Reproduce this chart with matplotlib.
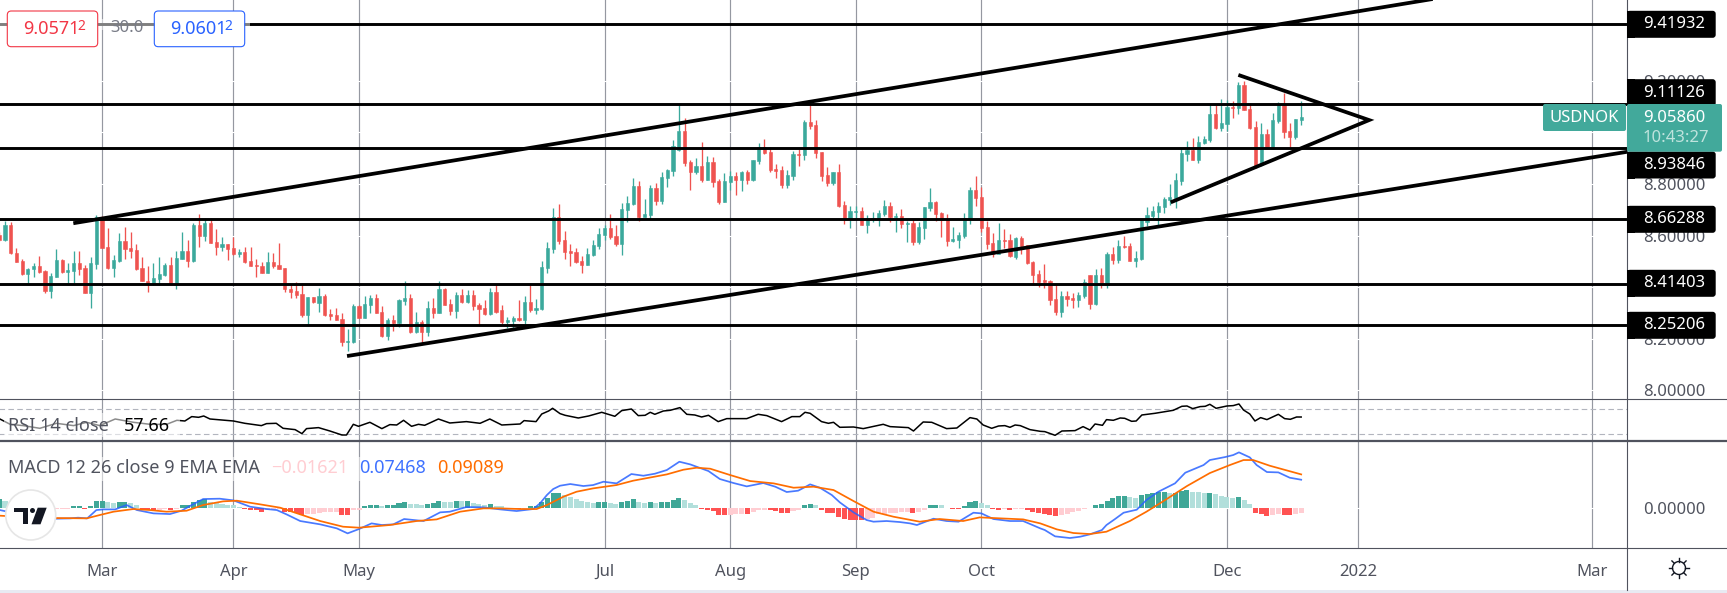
import matplotlib
matplotlib.use("Agg")
import matplotlib.pyplot as plt
from matplotlib.patches import Circle, FancyBboxPatch, Polygon, Rectangle

plt.rcParams['font.family'] = ['Noto Sans', 'DejaVu Sans']

# USDNOK daily candles
opens = [
    8.602,8.583,8.641,8.534,8.502,8.451,8.469,8.482,8.464,8.387,
    8.441,8.505,8.460,8.463,8.494,8.474,8.379,8.490,8.674,8.555,
    8.476,8.503,8.578,8.552,8.544,8.474,8.425,8.412,8.433,8.447,
    8.486,8.412,8.511,8.540,8.502,8.641,8.600,8.648,8.574,8.557,
    8.567,8.551,8.529,8.536,8.502,8.485,8.482,8.456,8.498,8.485,
    8.473,8.393,8.385,8.374,8.294,8.361,8.337,8.366,8.296,8.292,
    8.277,8.189,8.186,8.327,8.281,8.331,8.359,8.304,8.211,8.273,
    8.261,8.348,8.358,8.226,8.265,8.228,8.319,8.301,8.393,8.335,
    8.308,8.370,8.343,8.370,8.331,8.319,8.296,8.381,8.312,8.265,
    8.269,8.281,8.273,8.343,8.312,8.315,8.474,8.548,8.672,8.583,
    8.540,8.536,8.502,8.486,8.525,8.560,8.602,8.629,8.598,8.567,
    8.699,8.723,8.792,8.672,8.680,8.785,8.734,8.823,8.851,8.932,
    9.006,8.885,8.847,8.870,8.816,8.885,8.812,8.730,8.808,8.831,
    8.816,8.847,8.816,8.889,8.944,8.924,8.858,8.854,8.796,8.831,
    8.916,8.913,9.041,9.029,8.924,8.835,8.804,8.847,8.719,8.664,
    8.692,8.695,8.641,8.664,8.664,8.684,8.715,8.672,8.676,8.645,
    8.649,8.575,8.629,8.707,8.730,8.688,8.664,8.579,8.583,8.598,
    8.664,8.777,8.750,8.633,8.571,8.529,8.583,8.583,8.518,8.592,
    8.564,8.499,8.451,8.428,8.425,8.354,8.304,8.366,8.358,8.350,
    8.366,8.447,8.335,8.447,8.408,8.529,8.505,8.560,8.560,8.502,
    8.509,8.653,8.676,8.692,8.711,8.738,8.746,8.812,8.916,8.932,
    8.893,8.959,8.971,9.072,9.017,9.033,9.099,9.095,9.184,9.091,
    9.021,8.874,8.994,8.936,9.044,9.106,9.006,8.982,9.048,
]
highs = [
    8.615,8.658,8.651,8.551,8.509,8.473,8.495,8.521,8.467,8.454,
    8.548,8.508,8.495,8.540,8.540,8.486,8.516,8.680,8.676,8.628,
    8.525,8.610,8.632,8.614,8.566,8.517,8.482,8.492,8.517,8.494,
    8.517,8.542,8.614,8.583,8.650,8.684,8.667,8.667,8.624,8.593,
    8.567,8.596,8.547,8.554,8.556,8.508,8.499,8.536,8.531,8.571,
    8.473,8.411,8.421,8.415,8.363,8.361,8.396,8.374,8.314,8.321,
    8.300,8.238,8.335,8.331,8.366,8.370,8.374,8.327,8.279,8.292,
    8.353,8.424,8.374,8.304,8.273,8.346,8.358,8.424,8.397,8.354,
    8.381,8.393,8.389,8.389,8.339,8.350,8.397,8.412,8.331,8.284,
    8.288,8.350,8.366,8.408,8.354,8.502,8.575,8.707,8.723,8.618,
    8.567,8.552,8.521,8.552,8.583,8.629,8.641,8.684,8.641,8.726,
    8.754,8.823,8.812,8.742,8.796,8.804,8.847,8.858,8.971,9.106,
    9.056,8.893,8.901,8.963,8.909,8.905,8.820,8.843,8.850,8.847,
    8.850,8.854,8.893,8.959,8.975,8.944,8.878,8.870,8.854,8.928,
    8.936,9.048,9.106,9.048,8.924,8.866,8.847,8.878,8.734,8.715,
    8.715,8.711,8.680,8.692,8.699,8.738,8.730,8.688,8.703,8.657,
    8.664,8.653,8.711,8.785,8.734,8.692,8.684,8.633,8.614,8.688,
    8.789,8.831,8.789,8.657,8.610,8.649,8.624,8.606,8.593,8.598,
    8.564,8.503,8.467,8.490,8.428,8.416,8.385,8.385,8.377,8.381,
    8.432,8.447,8.470,8.474,8.536,8.556,8.583,8.598,8.571,8.540,
    8.661,8.711,8.715,8.730,8.750,8.800,8.843,8.940,8.967,8.979,
    8.986,8.986,9.106,9.106,9.130,9.126,9.122,9.196,9.200,9.114,
    9.044,9.037,9.013,9.075,9.118,9.153,9.037,9.052,9.122,
]
lows = [
    8.580,8.580,8.529,8.498,8.447,8.408,8.441,8.454,8.379,8.359,
    8.438,8.456,8.408,8.415,8.447,8.376,8.321,8.472,8.551,8.469,
    8.441,8.499,8.511,8.512,8.467,8.424,8.383,8.408,8.408,8.445,
    8.408,8.392,8.508,8.480,8.498,8.557,8.580,8.570,8.525,8.542,
    8.505,8.525,8.518,8.493,8.482,8.441,8.454,8.454,8.476,8.469,
    8.383,8.359,8.359,8.286,8.251,8.337,8.305,8.290,8.273,8.273,
    8.172,8.154,8.185,8.279,8.279,8.301,8.299,8.207,8.195,8.231,
    8.244,8.332,8.224,8.224,8.180,8.211,8.281,8.299,8.331,8.292,
    8.281,8.340,8.337,8.312,8.250,8.292,8.292,8.300,8.257,8.242,
    8.242,8.269,8.257,8.304,8.296,8.312,8.455,8.533,8.567,8.509,
    8.482,8.494,8.455,8.486,8.521,8.548,8.583,8.587,8.560,8.525,
    8.653,8.719,8.657,8.672,8.664,8.719,8.723,8.788,8.831,8.928,
    8.870,8.777,8.839,8.808,8.816,8.788,8.723,8.730,8.777,8.757,
    8.773,8.800,8.812,8.878,8.916,8.847,8.823,8.785,8.785,8.816,
    8.870,8.893,9.013,8.901,8.812,8.792,8.796,8.711,8.645,8.629,
    8.660,8.641,8.610,8.653,8.637,8.676,8.653,8.614,8.629,8.575,
    8.564,8.567,8.587,8.695,8.657,8.595,8.560,8.575,8.552,8.591,
    8.645,8.715,8.614,8.548,8.517,8.529,8.551,8.516,8.509,8.529,
    8.490,8.412,8.402,8.398,8.331,8.292,8.284,8.327,8.319,8.323,
    8.358,8.315,8.331,8.397,8.397,8.490,8.494,8.552,8.502,8.478,
    8.505,8.637,8.664,8.641,8.688,8.719,8.707,8.796,8.889,8.893,
    8.882,8.955,8.963,9.013,9.006,9.006,9.056,9.072,9.087,9.013,
    8.862,8.870,8.936,8.936,9.037,8.979,8.944,8.975,9.029,
]
closes = [
    8.583,8.641,8.531,8.499,8.451,8.470,8.482,8.459,8.387,8.443,
    8.505,8.460,8.467,8.494,8.472,8.379,8.494,8.674,8.553,8.474,
    8.505,8.578,8.549,8.542,8.472,8.425,8.412,8.434,8.451,8.486,
    8.412,8.513,8.540,8.502,8.641,8.600,8.648,8.573,8.557,8.567,
    8.549,8.529,8.536,8.498,8.483,8.481,8.456,8.498,8.482,8.472,
    8.392,8.383,8.371,8.291,8.363,8.341,8.366,8.291,8.290,8.273,
    8.189,8.191,8.327,8.281,8.335,8.359,8.301,8.211,8.273,8.261,
    8.350,8.359,8.226,8.265,8.226,8.319,8.301,8.393,8.331,8.308,
    8.370,8.343,8.370,8.327,8.315,8.296,8.381,8.304,8.265,8.273,
    8.281,8.273,8.343,8.312,8.319,8.478,8.552,8.672,8.579,8.536,
    8.533,8.498,8.486,8.529,8.564,8.606,8.629,8.595,8.567,8.703,
    8.726,8.792,8.672,8.684,8.785,8.734,8.827,8.854,8.947,9.006,
    8.882,8.847,8.870,8.816,8.885,8.808,8.730,8.812,8.831,8.816,
    8.847,8.816,8.893,8.944,8.920,8.854,8.850,8.796,8.835,8.916,
    8.913,9.041,9.025,8.920,8.831,8.804,8.847,8.715,8.664,8.695,
    8.695,8.641,8.668,8.668,8.688,8.715,8.672,8.676,8.645,8.649,
    8.575,8.633,8.711,8.730,8.684,8.660,8.579,8.587,8.602,8.668,
    8.777,8.746,8.629,8.567,8.529,8.583,8.579,8.521,8.592,8.560,
    8.493,8.447,8.421,8.420,8.350,8.304,8.366,8.354,8.352,8.370,
    8.420,8.335,8.447,8.408,8.529,8.505,8.560,8.556,8.502,8.513,
    8.661,8.680,8.695,8.715,8.742,8.750,8.816,8.920,8.932,8.893,
    8.963,8.975,9.072,9.017,9.037,9.099,9.095,9.184,9.087,9.017,
    8.870,8.994,8.936,9.048,9.106,9.002,8.982,9.052,9.060,
]

# support / resistance levels and the drawn trend lines (bar, price)
levels = [9.41932, 9.11126, 8.93846, 8.66288, 8.41403, 8.25206]
upper_channel_bars = [12.96, 252.0]
upper_channel_prices = [8.648, 9.521]
lower_channel_bars = [60.9, 285.1]
lower_channel_prices = [8.133, 8.925]
triangle_bars = [217.0, 239.9, 205.15]
triangle_prices = [9.223, 9.048, 8.729]

# RSI line
rsi_bars = [
    0.1,1.9,4.2,7.1,10.0,13.0,15.3,17.6,20.3,23.5,26.4,29.3,31.1,32.5,33.7,34.9,35.8,36.9,41.0,43.0,
    45.9,46.8,48.5,49.7,51.8,53.0,53.8,55.9,57.9,60.0,60.8,62.0,62.9,64.9,67.0,68.4,69.6,70.8,72.2,73.4,
    74.5,76.9,78.9,81.8,84.2,85.9,88.0,91.2,91.9,94.0,95.0,96.2,96.9,98.2,99.1,101.4,103.2,105.5,107.8,109.0,
    110.7,111.9,113.1,114.0,114.8,116.3,117.5,119.2,120.4,121.8,123.0,124.2,125.9,127.4,130.9,132.9,134.4,137.0,138.8,140.2,
    141.1,142.0,144.0,145.2,146.1,147.2,149.6,151.3,154.8,156.0,159.2,160.1,161.8,163.3,165.9,167.7,170.0,171.2,172.3,173.8,
    175.0,176.1,177.0,177.9,178.8,180.5,182.3,183.1,184.9,186.1,188.4,189.8,191.0,191.9,193.2,193.9,195.1,196.3,197.1,198.3,
    199.1,200.1,202.4,205.6,207.1,208.0,209.0,210.3,211.2,212.0,213.1,215.0,216.1,217.1,217.9,219.0,219.9,220.9,222.0,224.0,
    225.1,226.1,227.2,228.0,
]
rsi_values = [
    54.5,46.0,43.9,39.6,47.6,43.9,49.2,43.9,54.5,49.2,46.0,46.0,52.4,51.3,58.3,57.2,59.3,54.5,51.3,47.6,
    43.9,47.1,47.6,39.6,37.5,31.1,39.1,40.7,35.3,28.9,28.9,46.0,42.8,49.2,39.1,45.5,44.9,52.4,42.8,46.0,
    44.4,54.5,48.1,50.3,47.6,54.5,44.9,46.5,51.9,50.3,62.5,67.3,71.6,63.1,60.4,56.1,59.3,65.2,58.8,67.9,
    70.5,59.9,60.4,65.2,62.0,67.3,68.4,72.7,62.0,60.9,57.7,60.4,50.3,55.1,55.1,62.0,59.9,50.3,58.3,58.3,
    65.2,63.6,50.3,47.6,49.2,41.2,41.7,39.1,46.0,42.3,40.7,35.3,49.7,49.2,39.1,40.1,56.7,54.5,44.9,39.6,
    43.3,43.9,41.2,44.9,43.9,37.5,34.8,34.3,28.4,35.3,35.9,42.3,36.9,46.5,44.4,53.5,52.4,56.1,55.6,50.8,
    51.3,60.9,63.6,68.4,74.8,75.3,71.1,74.3,74.8,78.0,71.6,75.3,75.9,78.5,68.9,62.5,51.3,56.7,53.5,62.0,
    55.1,54.0,57.7,57.66,
]

# MACD line
macd_bars = [
    0.1,3.6,7.1,9.8,12.4,13.8,15.4,17.0,18.2,20.3,22.3,24.1,27.0,29.9,31.9,33.7,35.7,38.6,41.0,43.9,
    46.8,48.6,50.3,52.7,56.2,59.1,61.0,63.0,65.2,67.0,69.0,70.9,74.3,77.2,78.9,81.8,84.8,87.7,90.6,
    93.5,94.7,95.9,97.0,98.2,100.0,102.3,104.0,105.8,108.1,110.7,112.8,114.8,116.9,119.1,121.0,124.2,126.2,128.6,130.9,
    133.8,135.9,137.9,139.9,142.0,143.7,145.8,147.2,149.6,151.9,153.1,155.4,157.7,159.5,160.7,163.6,165.9,168.0,170.6,172.0,
    174.1,177.0,179.3,182.3,183.1,184.9,187.5,189.3,191.0,193.1,193.9,195.4,196.9,199.2,200.9,203.0,205.9,207.7,210.9,212.0,
    214.7,216.1,217.1,219.0,220.2,222.0,224.0,226.0,228.0,
]
macd_values = [
    -.0060,-.0170,-.0255,-.0281,-.0272,-.0255,-.0272,-.0060,-.0043,-.0043,.0068,-.0060,-.0145,-.0162,-.0077,.0068,.0221,.0230,.0187,.0026,
    -.0034,-.0060,-.0170,-.0340,-.0425,-.0527,-.0655,-.0544,-.0400,-.0442,-.0425,-.0289,-.0340,-.0119,-.0102,.0017,.0009,-.0043,-.0085,
    -.0034,.0111,.0323,.0476,.0561,.0604,.0553,.0578,.0663,.0621,.0859,.0816,.0867,.0961,.1173,.1105,.0935,.0731,.0629,.0544,
    .0629,.0536,.0400,.0434,.0595,.0510,.0323,.0136,-.0119,-.0315,-.0357,-.0340,-.0366,-.0400,-.0442,-.0281,-.0340,-.0357,-.0128,-.0145,
    -.0289,-.0340,-.0340,-.0527,-.0570,-.0731,-.0774,-.0740,-.0680,-.0570,-.0442,-.0289,-.0128,-.0051,.0196,.0408,.0621,.0893,.1088,.1216,
    .1293,.1344,.1412,.1284,.1088,.0910,.0901,.0765,.0714,
]

# signal line
signal_bars = [
    0.1,4.8,9.8,15.3,17.6,20.0,23.5,26.4,29.3,32.8,35.7,39.2,41.6,45.7,49.2,52.7,56.2,60.2,63.0,68.4,
    73.1,76.6,80.7,84.8,87.7,91.2,94.1,95.9,98.8,101.1,104.0,108.1,111.0,116.9,119.8,122.1,124.5,128.0,131.5,135.6,
    139.1,142.6,146.1,149.6,153.1,156.6,161.2,164.7,168.8,171.7,175.3,179.3,182.3,185.2,188.1,191.0,193.9,198.0,200.9,203.9,
    208.0,212.0,215.5,217.9,219.6,222.5,228.0,
]
signal_values = [
    -.0204,-.0238,-.0264,-.0272,-.0187,-.0102,-.0034,-.0060,-.0102,-.0077,.0068,.0162,.0179,.0085,0.0,-.0170,-.0340,-.0485,-.0510,-.0442,
    -.0340,-.0298,-.0102,-.0017,-.0017,-.0034,-.0034,.0068,.0281,.0408,.0493,.0578,.0689,.0850,.0969,.1020,.0995,.0833,.0680,.0621,
    .0510,.0536,.0451,.0170,-.0102,-.0230,-.0357,-.0289,-.0340,-.0247,-.0272,-.0298,-.0400,-.0553,-.0646,-.0672,-.0612,-.0340,-.0102,.0170,
    .0553,.0884,.1088,.1216,.1216,.1071,.0850,
]

# MACD histogram, one value per bar
hist_values = [
    .0221,.0170,.0102,.0051,.0017,-.0017,-.0026,-.0034,-.0043,-.0034,
    -.0026,-.0026,-.0026,.0034,.0034,-.0034,.0051,.0170,.0179,.0145,
    .0119,.0136,.0145,.0111,.0060,-.0034,-.0068,-.0085,-.0060,-.0043,
    -.0068,-.0026,.0068,.0077,.0153,.0204,.0213,.0153,.0119,.0102,
    .0077,.0060,.0026,-.0034,-.0051,-.0068,-.0111,-.0068,-.0043,-.0026,
    -.0102,-.0111,-.0145,-.0187,-.0162,-.0153,-.0128,-.0119,-.0119,-.0119,
    -.0179,-.0187,-.0068,-.0051,.0034,.0068,.0077,.0034,.0060,.0068,
    .0119,.0145,.0094,.0085,.0068,.0094,.0119,.0170,.0153,.0145,
    .0170,.0162,.0170,.0119,.0102,.0068,.0085,.0051,.0034,-.0026,
    -.0034,-.0043,-.0026,.0043,.0047,.0145,.0255,.0374,.0383,.0323,
    .0272,.0221,.0170,.0145,.0119,.0145,.0153,.0119,.0094,.0145,
    .0170,.0221,.0145,.0119,.0145,.0119,.0145,.0153,.0196,.0247,
    .0196,.0119,.0060,-.0043,-.0051,-.0085,-.0179,-.0187,-.0179,-.0170,
    -.0162,-.0170,-.0111,-.0068,-.0051,-.0068,-.0094,-.0136,-.0145,-.0094,
    -.0068,.0068,.0094,.0068,-.0068,-.0136,-.0145,-.0247,-.0289,-.0306,
    -.0315,-.0323,-.0281,-.0255,-.0170,-.0162,-.0145,-.0128,-.0119,-.0102,
    -.0128,-.0102,-.0051,.0068,.0072,.0068,-.0017,-.0026,-.0034,.0043,
    .0145,.0170,.0119,.0068,-.0043,-.0051,-.0034,-.0068,-.0043,-.0034,
    -.0060,-.0111,-.0136,-.0153,-.0179,-.0213,-.0187,-.0153,-.0119,-.0077,
    -.0026,-.0017,.0068,.0094,.0170,.0247,.0298,.0306,.0272,.0247,
    .0323,.0349,.0374,.0400,.0408,.0374,.0383,.0425,.0451,.0400,
    .0391,.0374,.0383,.0349,.0298,.0272,.0247,.0272,.0196,.0094,
    -.0128,-.0153,-.0221,-.0196,-.0170,-.0179,-.0196,-.0170,-.0145,
]

# time axis
tick_bars = [18, 41, 63, 106, 128, 150, 172, 215, 238, 279]
tick_labels = ['Mar', 'Apr', 'May', 'Jul', 'Aug', 'Sep', 'Oct', 'Dec', '2022', 'Mar']
price_ticks = [8.0, 8.2, 8.4, 8.6, 8.8, 9.0, 9.2]

W, H = 1727, 593
AXIS_X = 1627
UP = '#3ba99c'
DOWN = '#ef5350'
GRID = '#9598a1'
LINE = '#50535e'
TEXT = '#50535e'
BLUE = '#2962ff'
ORANGE = '#ff6d00'
FS = 12
LEGEND_FS = 13


def px_axes(top, bottom):
    ax = fig.add_axes([0, 1 - bottom / H, AXIS_X / W, (bottom - top) / H])
    ax.set_xlim(0.1226, 285.06)
    for s in ax.spines.values():
        s.set_visible(False)
    ax.set_xticks([])
    ax.tick_params(length=0, labelsize=FS, labelcolor=TEXT)
    ax.yaxis.tick_right()
    for b in tick_bars:
        ax.axvline(b, color=GRID, lw=0.85, zorder=1)
    return ax


fig = plt.figure(figsize=(W / 100, H / 100), dpi=100, facecolor='white')

# --- price pane ---
ax = px_axes(0, 399.3)
ax.set_ylim(7.9653, 9.5136)
ax.set_yticks(price_ticks, [f'{p:.5f}' for p in price_ticks])
ax.tick_params(axis='y', pad=11.5)
for p in price_ticks:
    ax.axhline(p, color='white', lw=0.8, zorder=1.5)

bars = list(range(len(closes)))
colors = [UP if c >= o else DOWN for o, c in zip(opens, closes)]
ax.vlines(bars, lows, highs, colors=colors, lw=0.95, zorder=2)
ax.bar(bars, [abs(c - o) for o, c in zip(opens, closes)],
       bottom=[min(o, c) for o, c in zip(opens, closes)],
       width=0.56, color=colors, edgecolor=colors, linewidth=0.4, zorder=2.1)

ax.hlines(levels, 0, 290, colors='black', lw=2.1, zorder=3)
ax.plot(upper_channel_bars, upper_channel_prices, color='black', lw=2.7, zorder=3, solid_capstyle='butt')
ax.plot(lower_channel_bars, lower_channel_prices, color='black', lw=2.7, zorder=3, solid_capstyle='butt')
ax.plot(triangle_bars, triangle_prices, color='black', lw=2.7, zorder=3,
        solid_capstyle='butt', solid_joinstyle='miter')

# --- RSI pane ---
ax_rsi = px_axes(399.3, 441)
ax_rsi.set_ylim(19.3, 86)
ax_rsi.set_yticks([])
ax_rsi.hlines([30, 70], 0, 290, colors='#b2b5be', lw=0.8, linestyles=(0, (5, 3)), zorder=1.5)
ax_rsi.plot(rsi_bars, rsi_values, color='black', lw=1.1, zorder=3)

# --- MACD pane ---
ax_macd = px_axes(441, 548.3)
ax_macd.set_ylim(-0.1036, 0.1702)
ax_macd.set_yticks([0], ['0.00000'])
ax_macd.tick_params(axis='y', pad=11.5)
ax_macd.axhline(0, color='white', lw=0.8, zorder=1.5)

hist_colors = []
for i, v in enumerate(hist_values):
    prev = hist_values[i - 1] if i else v
    if v >= 0:
        hist_colors.append('#3fa797' if v >= prev else '#b2dfdb')
    else:
        hist_colors.append('#ff5252' if v < prev else '#ffcdd2')
ax_macd.bar(bars, hist_values, width=0.88, color=hist_colors, zorder=2)
ax_macd.plot(macd_bars, macd_values, color=BLUE, lw=1.25, alpha=0.85, zorder=3)
ax_macd.plot(signal_bars, signal_values, color=ORANGE, lw=1.25, zorder=3.1)

ax_macd.set_xticks(tick_bars, tick_labels)
ax_macd.tick_params(axis='x', pad=11)
for lab in ax_macd.get_xticklabels():
    if lab.get_text() == '2022':
        lab.set_fontweight('bold')

# --- overlay in pixel units: separators, labels, boxes, logo ---
ov = fig.add_axes([0, 0, 1, 1], zorder=10)
ov.set_xlim(0, W)
ov.set_ylim(H, 0)
ov.axis('off')
ov.patch.set_alpha(0)

ov.plot([0, W], [399.3, 399.3], color=LINE, lw=0.8)
ov.plot([0, W], [441, 441], color=LINE, lw=1.6)
ov.plot([0, W], [548.3, 548.3], color=LINE, lw=0.8)
ov.plot([AXIS_X, AXIS_X], [0, 590], color=LINE, lw=0.8)
ov.add_patch(Rectangle((0, 590), W, 3, color='#e8eaf2', lw=0))


def price_box(y_mid, text):
    top = y_mid - 13.5
    ov.add_patch(FancyBboxPatch((AXIS_X, top), 88.7, 27, boxstyle='round,pad=0,rounding_size=3',
                                fc='black', ec='none', zorder=4))
    ov.add_patch(Rectangle((AXIS_X, top), 8, 27, fc='black', ec='none', zorder=4))
    ov.text(1643, y_mid, text, color='white', fontsize=FS, va='center', ha='left', zorder=5)


for y_mid, txt in [(24.3, '9.41932'), (92.7, '9.11126'), (165, '8.93846'),
                   (219.3, '8.66288'), (283.3, '8.41403'), (325.3, '8.25206')]:
    price_box(y_mid, txt)

# current price tag
ov.add_patch(FancyBboxPatch((AXIS_X, 104), 95, 47.7, boxstyle='round,pad=0,rounding_size=2',
                            fc='#42a99b', ec='none', zorder=6))
ov.add_patch(FancyBboxPatch((1543, 104), 83, 27, boxstyle='round,pad=0,rounding_size=2',
                            fc='#42a99b', ec='none', zorder=6))
ov.text(1643, 117.5, '9.05860', color='white', fontsize=FS, va='center', zorder=7)
ov.text(1643, 137.5, '10:43:27', color='#bfe3dd', fontsize=FS, va='center', zorder=7)
ov.text(1584.5, 117.5, 'USDNOK', color='white', fontsize=FS, va='center', ha='center', zorder=7)

# bid / ask boxes top left
ov.add_patch(Rectangle((0, 19), 250, 11, fc='white', ec='none', alpha=0.5, zorder=3))
ov.text(110, 28, '30.0', color='#787b86', fontsize=FS, va='center', zorder=5)
for x0, col, main in [(7.3, '#f23645', '9.0571'), (154.3, '#2962ff', '9.0601')]:
    ov.add_patch(FancyBboxPatch((x0, 11), 90.4, 35.7, boxstyle='round,pad=0,rounding_size=4',
                                fc='white', ec=col, lw=0.8, zorder=4))
    ov.text(x0 + 15.5, 29, main, color=col, fontsize=13, va='center', zorder=5)
    ov.text(x0 + 70.5, 26, '2', color=col, fontsize=10, va='center', zorder=5)

# indicator legends, the white strips fade what lies beneath them
ov.add_patch(Rectangle((4, 413), 176, 24, fc='white', ec='none', alpha=0.55, zorder=3))
ov.add_patch(Rectangle((4, 457), 502, 24, fc='white', ec='none', alpha=0.55, zorder=3))
ov.text(8.3, 426, 'RSI 14 close', color=TEXT, fontsize=LEGEND_FS, va='center', zorder=5)
ov.text(124, 426, '57.66', color='black', fontsize=LEGEND_FS, va='center', zorder=5)
ov.text(8.3, 468, 'MACD 12 26 close 9 EMA EMA', color=TEXT, fontsize=LEGEND_FS, va='center', zorder=5)
ov.text(271, 468, '\u22120.01621', color='#ffcdd2', fontsize=LEGEND_FS, va='center', zorder=5)
ov.text(359, 468, '0.07468', color=BLUE, fontsize=LEGEND_FS, va='center', zorder=5, alpha=0.9)
ov.text(437, 468, '0.09089', color=ORANGE, fontsize=LEGEND_FS, va='center', zorder=5)

# logo
ov.add_patch(Circle((30.7, 515), 25, fc='white', ec='#e6e6e6', lw=1.2, zorder=6))
ov.add_patch(Polygon([(14, 507.7), (28.3, 507.7), (28.3, 524.3), (22.7, 524.3), (22.7, 512.3), (14, 512.3)],
                     fc='#131722', ec='none', zorder=7))
ov.add_patch(Circle((32.5, 510.5), 2.5, fc='#131722', ec='none', zorder=7))
ov.add_patch(Polygon([(37.7, 507.7), (46.7, 507.7), (40.5, 524.3), (31.5, 524.3)],
                     fc='#131722', ec='none', zorder=7))

# settings gear
ov.add_patch(Circle((1679, 568), 6.5, fc='white', ec='#131722', lw=1.0, zorder=6))
for dx, dy in [(0, -1), (0, 1), (1, 0), (-1, 0), (.707, .707), (-.707, .707), (.707, -.707), (-.707, -.707)]:
    ov.plot([1679 + 6.5 * dx, 1679 + 10 * dx], [568 + 6.5 * dy, 568 + 10 * dy], color='#131722', lw=1.0, zorder=6)

fig.savefig('out.png', dpi=100)
